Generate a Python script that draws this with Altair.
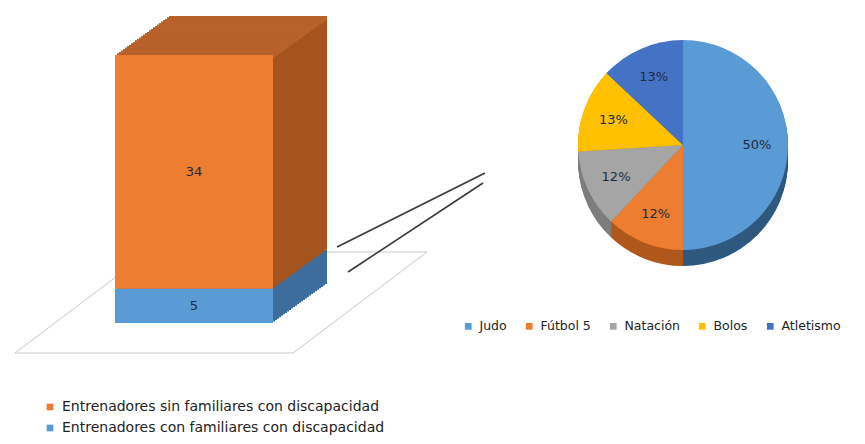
import altair as alt
import pandas as pd

# ---------------- data ----------------
grupos = ["Entrenadores con familiares con discapacidad",
          "Entrenadores sin familiares con discapacidad"]
cantidades = [5, 34]
colores_barra = ["#5B9BD5", "#ED7D31"]
lados_barra = ["#3D6D9C", "#A5541E"]
techo_barra = "#B7622A"

deportes = ["Judo", "Fútbol 5", "Natación", "Bolos", "Atletismo"]
porcentajes = [50, 12, 12, 13, 13]
etiquetas = ["50%", "12%", "12%", "13%", "13%"]
colores_pie = ["#5B9BD5", "#ED7D31", "#A5A5A5", "#FFC000", "#4472C4"]
lados_pie = ["#30597F", "#B0581D", "#7D7D7D", "#BF9000", "#2F5597"]

FONT = "DejaVu Sans"
TXT = "#1F2A44"

# ---------------- tables ----------------
fin = pd.Series(cantidades).cumsum()
df_bar = pd.DataFrame({
    "eje": ["barra"] * len(grupos),
    "grupo": grupos,
    "cantidad": cantidades,
    "inicio": fin - pd.Series(cantidades),
    "fin": fin,
})
df_bar["centro"] = (df_bar["inicio"] + df_bar["fin"]) / 2

df_pie = pd.DataFrame({
    "deporte": deportes,
    "valor": porcentajes,
    "etiqueta": etiquetas,
    "orden": list(range(len(deportes))),
})

YSCALE = alt.Scale(domain=[0, 39], range=[315, 47], nice=False, zero=False)
xs = alt.X("eje:N", scale=alt.Scale(range=[107, 265], paddingInner=0, paddingOuter=0), axis=None)
ys = alt.Y("inicio:Q", scale=YSCALE, axis=None)

layers = []

# floor (decoration)
def rule(x1, y1, x2, y2, color="#C8C8C8", w=1.0):
    return alt.Chart(pd.DataFrame({"d": [0]})).mark_rule(color=color, strokeWidth=w).encode(
        x=alt.value(x1), y=alt.value(y1), x2=alt.value(x2), y2=alt.value(y2))

layers += [rule(7, 345, 285, 345), rule(285, 345, 419, 244),
           rule(141, 244, 419, 244), rule(7, 345, 141, 244)]

# bar depth sweep (side faces)
N = 27
DX, DY = 54, -39
for k in range(N, 0, -1):
    ox, oy = DX * k / N, DY * k / N
    layers.append(
        alt.Chart(df_bar).mark_bar(xOffset=ox, yOffset=oy, y2Offset=oy).encode(
            x=xs, y=ys, y2="fin:Q",
            color=alt.condition(alt.datum.grupo == grupos[0],
                                alt.value(lados_barra[0]), alt.value(lados_barra[1]))))
# top face sweep
for k in range(N, 0, -1):
    ox, oy = DX * k / N, DY * k / N
    layers.append(
        alt.Chart(df_bar).transform_filter(alt.datum.grupo == grupos[1])
        .transform_calculate(tope="datum.fin - 0.6")
        .mark_bar(xOffset=ox, yOffset=oy, y2Offset=oy, color=techo_barra).encode(
            x=xs, y=alt.Y("fin:Q", scale=YSCALE, axis=None),
            y2="tope:Q"))

# front face with legend
layers.append(
    alt.Chart(df_bar).mark_bar().encode(
        x=xs, y=ys, y2="fin:Q",
        color=alt.Color("grupo:N",
                        scale=alt.Scale(domain=[grupos[1], grupos[0]],
                                        range=[colores_barra[1], colores_barra[0]]),
                        legend=alt.Legend(orient="none", legendX=35, legendY=392,
                                          direction="vertical", title=None,
                                          symbolType="square", symbolSize=45,
                                          symbolStrokeWidth=0, labelFont=FONT,
                                          labelFontSize=14, labelColor="#222222",
                                          labelLimit=0,
                                          rowPadding=7, labelOffset=5))))
layers.append(
    alt.Chart(df_bar).mark_text(font=FONT, fontSize=13, color=TXT).encode(
        x=xs, y=alt.Y("centro:Q", scale=YSCALE, axis=None),
        text="cantidad:Q"))

# connector lines
layers += [rule(329, 239, 477, 165, color="#3A3A3A", w=1.6),
           rule(340, 264, 475, 175, color="#3A3A3A", w=1.6)]

# pie
CX, CY, R, DEPTH = 675, 137, 105, 16
theta = alt.Theta("valor:Q", stack=True)
order = alt.Order("orden:Q", sort="ascending")
for k in range(DEPTH, 0, -1):
    layers.append(
        alt.Chart(df_pie).mark_arc(radius=R).encode(
            theta=theta, order=order,
            x=alt.value(CX), y=alt.value(CY + k),
            color=alt.Color("deporte:N", scale=alt.Scale(domain=deportes, range=lados_pie), legend=None)))
layers.append(
    alt.Chart(df_pie).mark_arc(radius=R).encode(
        theta=theta, order=order,
        x=alt.value(CX), y=alt.value(CY),
        color=alt.Color("deporte:N", scale=alt.Scale(domain=deportes, range=colores_pie),
                        legend=alt.Legend(orient="none", legendX=454, legendY=312,
                                          direction="horizontal", columns=5, title=None,
                                          symbolType="square", symbolSize=45,
                                          symbolStrokeWidth=0, labelFont=FONT,
                                          labelFontSize=12.5, labelColor="#222222",
                                          labelLimit=0,
                                          columnPadding=16, labelOffset=5))))
layers.append(
    alt.Chart(df_pie).mark_text(radius=74, font=FONT, fontSize=13, color=TXT).encode(
        theta=theta, order=order,
        x=alt.value(CX), y=alt.value(CY),
        text="etiqueta:N"))

chart = alt.layer(*layers).resolve_scale(color="independent").properties(
    width=849, height=428, padding=0, autosize="none", background="white"
).configure_view(stroke=None)

chart.save("out.html", embed_options={"renderer": "svg", "actions": False})
